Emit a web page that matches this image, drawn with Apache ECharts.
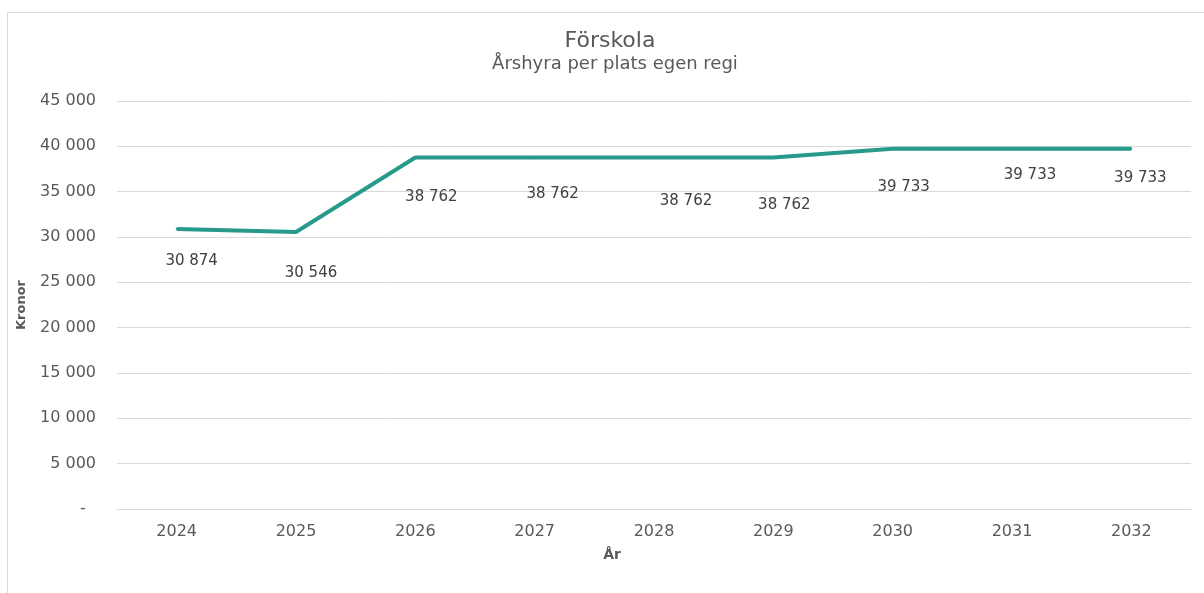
<!DOCTYPE html>
<html lang="sv">
<head>
    <meta charset="UTF-8">
    <title>Förskola</title>
    <script src="https://cdn.jsdelivr.net/npm/echarts@6/dist/echarts.min.js"></script>
    <style>
        html, body { margin: 0; padding: 0; background: #fff; }
        #frame { position: absolute; left: 7px; top: 12px; width: 1210px; height: 600px; border: 1px solid #d9d9d9; box-sizing: border-box; }
        #chart { position: absolute; left: 0; top: 0; width: 1204px; height: 593px; }
    </style>
</head>
<body>
<div id="frame"></div>
<div id="chart"></div>

<script>
    var years = ['2024', '2025', '2026', '2027', '2028', '2029', '2030', '2031', '2032'];
    var rent = [30874, 30546, 38762, 38762, 38762, 38762, 39733, 39733, 39733];
    // where each value label sits relative to its point (dx, dy)
    var labelShift = [[15, 32], [15, 41], [16, 40], [18, 37], [32, 44], [11, 48], [11, 38], [18, 26], [9, 29]];

    function sek(v) {
        if (v === 0) return '-  ';
        return String(v).replace(/\B(?=(\d{3})+(?!\d))/g, ' ');
    }

    var points = [];
    for (var i = 0; i < rent.length; i++) {
        points.push({
            value: rent[i],
            label: {show: true, offset: [labelShift[i][0], labelShift[i][1]]}
        });
    }

    var font = 'DejaVu Sans, Liberation Sans, sans-serif';
    var myChart = echarts.init(document.getElementById('chart'));
    var option = {
        textStyle: {fontFamily: font},
        title: [{
            text: 'Förskola',
            left: 605,
            top: 25,
            textAlign: 'center',
            textStyle: {fontSize: 22, fontWeight: 'normal', color: '#595959', fontFamily: font}
        }, {
            text: 'Årshyra per plats egen regi',
            left: 610,
            top: 50,
            textAlign: 'center',
            textStyle: {fontSize: 18, fontWeight: 'normal', color: '#595959', fontFamily: font}
        }],
        grid: {left: 117, right: 13, top: 101, bottom: 84},
        xAxis: {
            type: 'category',
            data: years,
            name: 'År',
            nameLocation: 'middle',
            nameGap: 39,
            nameTextStyle: {fontSize: 14, fontWeight: 'bold', color: '#595959', padding: [0, 84, 0, 0]},
            axisLine: {show: true, lineStyle: {color: '#d9d9d9', width: 1}},
            axisTick: {show: false},
            axisLabel: {margin: 15, fontSize: 16, color: '#595959'}
        },
        yAxis: {
            type: 'value',
            min: 0,
            max: 45000,
            interval: 5000,
            name: 'Kronor',
            nameLocation: 'middle',
            nameGap: 89,
            nameTextStyle: {fontSize: 13, fontWeight: 'bold', color: '#595959'},
            axisLine: {show: false},
            axisTick: {show: false},
            axisLabel: {margin: 21, fontSize: 16, color: '#595959', formatter: sek},
            splitLine: {lineStyle: {color: '#d9d9d9', width: 1}}
        },
        series: [{
            name: 'Årshyra',
            type: 'line',
            data: points,
            symbol: 'circle',
            symbolSize: 2,
            showSymbol: true,
            lineStyle: {color: '#279a8c', width: 4},
            itemStyle: {color: '#279a8c', borderWidth: 0},
            label: {
                show: true,
                position: 'inside',
                fontSize: 15,
                color: '#404040',
                formatter: function (p) { return sek(p.value); }
            }
        }]
    };
    myChart.setOption(option);
</script>
</body>
</html>
